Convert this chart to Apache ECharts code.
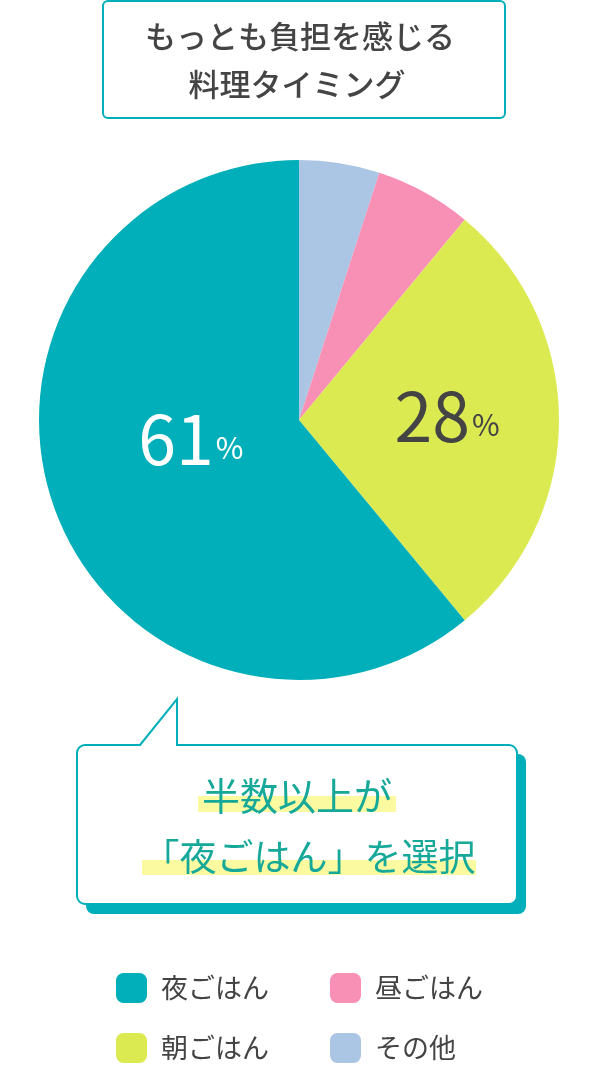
<!DOCTYPE html>
<html lang="ja">
  <head>
    <meta charset="UTF-8" />
    <title>料理タイミング</title>
    <style>
      html, body { margin: 0; padding: 0; background: #fff; }
      .box { width: 600px; height: 1068px; }
    </style>
  </head>
  <body>
    <div class="box"></div>
    <script src="https://cdn.jsdelivr.net/npm/echarts@6/dist/echarts.min.js"></script>
    <script>
      var categories = ['その他', '昼ごはん', '朝ごはん', '夜ごはん'];
      var values = [5, 6, 28, 61];
      var colors = ['#abc5e4', '#f88fb5', '#dcea52', '#00afb9'];
      var legendLeftCol = ['夜ごはん', '朝ごはん'];
      var legendRightCol = ['昼ごはん', 'その他'];
      var shownLabels = { '朝ごはん': true, '夜ごはん': true };

      var font = '"Noto Sans CJK JP", "Noto Sans", sans-serif';
      var teal = '#00afb9';

      var myChart = echarts.init(document.querySelector('.box'));

      var pieData = categories.map(function (name, i) {
        var dark = name === '夜ごはん';
        return {
          name: name,
          value: values[i],
          itemStyle: { color: colors[i] },
          label: {
            show: !!shownLabels[name],
            color: dark ? '#fff' : '#444',
            rich: {
              n: { fontSize: 68, fontFamily: font, color: dark ? '#fff' : '#444' },
              p: { fontSize: 30, fontFamily: font, color: dark ? '#fff' : '#444', padding: [18, 0, 0, 2] }
            }
          }
        };
      });

      function legendCol(left, names) {
        return {
          left: left,
          top: 973,
          padding: 0,
          orient: 'vertical',
          data: names,
          icon: 'roundRect',
          itemWidth: 31,
          itemHeight: 30,
          itemGap: 30,
          textStyle: {
            fontSize: 27,
            fontFamily: font,
            color: '#444',
            padding: [0, 0, 0, 9]
          }
        };
      }

      var option = {
        animation: false,
        legend: [legendCol(116, legendLeftCol), legendCol(330, legendRightCol)],
        series: [
          {
            type: 'pie',
            center: [299, 420],
            radius: [0, 260],
            startAngle: 90,
            clockwise: true,
            silent: true,
            label: {
              position: 'inside',
              formatter: function (p) { return '{n|' + p.value + '}{p|%}'; }
            },
            labelLayout: function (p) {
              if (p.dataIndex === 3) return { dx: 17, dy: -26 };
              if (p.dataIndex === 2) return { dx: 15, dy: -4 };
              return {};
            },
            labelLine: { show: false },
            data: pieData
          }
        ],
        graphic: [
          {
            type: 'rect',
            shape: { x: 103, y: 1, width: 402, height: 117, r: 5 },
            style: { fill: '#fff', stroke: teal, lineWidth: 2 }
          },
          {
            type: 'text',
            x: 300, y: 36,
            style: {
              text: 'もっとも負担を感じる', fontSize: 31, fontWeight: 500, fontFamily: font,
              fill: '#444', align: 'center', verticalAlign: 'middle'
            }
          },
          {
            type: 'text',
            x: 297, y: 84,
            style: {
              text: '料理タイミング', fontSize: 31, fontWeight: 500, fontFamily: font,
              fill: '#444', align: 'center', verticalAlign: 'middle'
            }
          },
          // callout: shadow, box, tail
          {
            type: 'rect',
            shape: { x: 86, y: 754, width: 440, height: 160, r: 8 },
            style: { fill: teal }
          },
          {
            type: 'rect',
            shape: { x: 77, y: 745, width: 440, height: 159, r: 8 },
            style: { fill: '#fff', stroke: teal, lineWidth: 2 }
          },
          {
            type: 'rect',
            shape: { x: 141, y: 743, width: 35, height: 4 },
            style: { fill: '#fff' }
          },
          {
            type: 'polyline',
            shape: { points: [[140, 745], [177, 699], [177, 745]] },
            style: { fill: null, stroke: teal, lineWidth: 2 }
          },
          {
            type: 'rect',
            shape: { x: 198, y: 796, width: 198, height: 16 },
            style: { fill: '#fbfaa0' }
          },
          {
            type: 'rect',
            shape: { x: 142, y: 860, width: 334, height: 15 },
            style: { fill: '#fbfaa0' }
          },
          {
            type: 'text',
            x: 297, y: 796,
            style: {
              text: '半数以上が', fontSize: 38, fontFamily: font,
              fill: '#16a898', align: 'center', verticalAlign: 'middle'
            }
          },
          {
            type: 'text',
            x: 309, y: 857,
            style: {
              text: '「夜ごはん」を選択', fontSize: 37, fontFamily: font,
              fill: '#16a898', align: 'center', verticalAlign: 'middle'
            }
          }
        ]
      };
      myChart.setOption(option);
    </script>
  </body>
</html>
